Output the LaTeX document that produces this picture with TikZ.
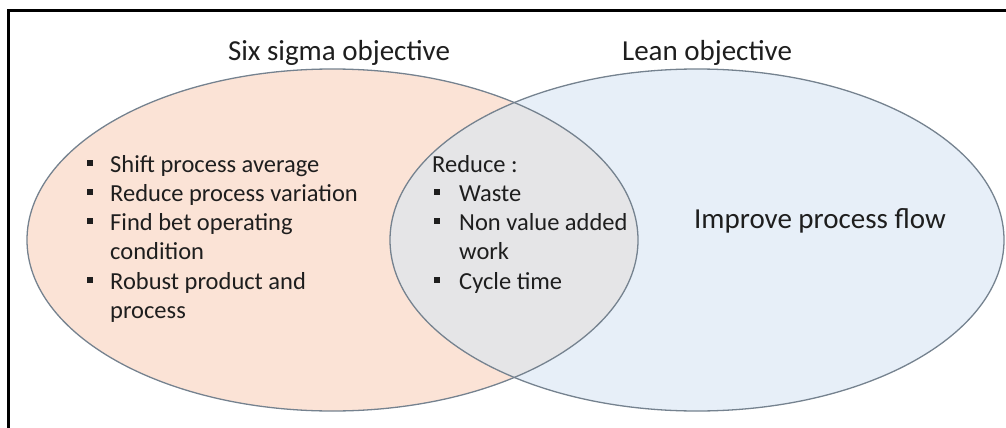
\documentclass[tikz,border=0pt]{standalone}
\usepackage{fontspec}
\setmainfont{Carlito}
\definecolor{sixfill}{HTML}{FBE3D6}
\definecolor{leanfill}{HTML}{E7EFF8}
\definecolor{bothfill}{HTML}{E5E5E7}
\definecolor{rimcol}{HTML}{75828F}
\definecolor{txt}{HTML}{1E1E1E}
\newcommand{\sqbul}[1]{\llap{\raisebox{6.5pt}{\rule{6pt}{6pt}}\hspace{#1}}}
\tikzset{
  rim/.style={draw=rimcol, line width=1.3pt},
  title/.style={font=\fontsize{29}{33}\selectfont, text=txt, inner sep=0pt, anchor=base},
  item/.style={font=\fontsize{24.5}{29}\selectfont, text=txt, inner sep=0pt, anchor=base west},
}
\begin{document}
\begin{tikzpicture}[x=1pt, y=-1pt]
  \useasboundingbox (0,0) rectangle (1006,428);
  % frame: only the top and left edges lie inside the page
  \draw[line width=2.2pt, line cap=rect] (1006,10.5) -- (8.5,10.5) -- (8.5,428);

  % the two sets and their overlap
  \fill[sixfill] (332.5,240) ellipse [x radius=305.5, y radius=171];
  \fill[leanfill] (697,240) ellipse [x radius=307, y radius=171];
  \begin{scope}
    \clip (332.5,240) ellipse [x radius=305.5, y radius=171];
    \fill[bothfill] (697,240) ellipse [x radius=307, y radius=171];
  \end{scope}
  \draw[rim] (332.5,240) ellipse [x radius=305.5, y radius=171];
  \draw[rim] (697,240) ellipse [x radius=307, y radius=171];

  % headings
  \node[title] (six) at (339,60) {Six sigma objective};
  \node[title] (lean) at (707,60) {Lean objective};
  \node[title] (flow) at (820,228) {Improve process flow};

  % six sigma list
  \node[item] (s1) at (110,172) {\sqbul{17pt}Shift process average};
  \node[item] (s2) at (110,201.5) {\sqbul{17pt}Reduce process variation};
  \node[item] (s3) at (110,230.5) {\sqbul{17pt}Find bet operating};
  \node[item] (s4) at (110,259.5) {condition};
  \node[item] (s5) at (110,289) {\sqbul{17pt}Robust product and};
  \node[item] (s6) at (110,318) {process};

  % shared list
  \node[item] (r0) at (432,172) {Reduce :};
  \node[item] (r1) at (459,201.5) {\sqbul{19pt}Waste};
  \node[item] (r2) at (459,230.5) {\sqbul{19pt}Non value added};
  \node[item] (r3) at (459,259.5) {work};
  \node[item] (r4) at (459,289) {\sqbul{19pt}Cycle time};
\end{tikzpicture}
\end{document}
